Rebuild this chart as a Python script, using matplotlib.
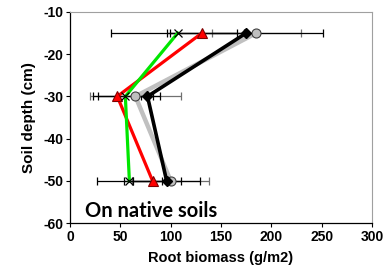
import matplotlib
matplotlib.use("Agg")
import matplotlib.pyplot as plt

depth = [-15, -30, -50]

grey_vals = [185, 65, 100]
grey_err = [44, 45, 38]
black_vals = [175, 77, 96]
black_err = [76, 12, 33]
red_vals = [131, 47, 82]
red_err = [35, 24, 28]
green_vals = [107, 55, 59]
green_err = [66, 27, 32]

xticks = [0, 50, 100, 150, 200, 250, 300]
yticks = [-10, -20, -30, -40, -50, -60]

plt.rcParams['font.family'] = ['Liberation Sans', 'DejaVu Sans']
plt.rcParams['font.weight'] = 'bold'
plt.rcParams['axes.unicode_minus'] = False

fig = plt.figure(figsize=(3.86, 2.77), dpi=100)
ax = fig.add_axes([0.1813, 0.1949, 0.9637 - 0.1813, 0.9567 - 0.1949])

# error bars
for vals, err, col in [(grey_vals, grey_err, '#707070'), (black_vals, black_err, 'black'),
                       (red_vals, red_err, 'black'), (green_vals, green_err, 'black')]:
    ax.errorbar(vals, depth, xerr=err, fmt='none', ecolor=col, elinewidth=0.9,
                capsize=2.8, capthick=0.9, zorder=2)

ax.plot(grey_vals, depth, color='#c0c0c0', lw=3.2, marker='o', ms=6.5,
        mfc='#bfbfbf', mec='#404040', mew=0.8, zorder=3)
ax.plot(black_vals, depth, color='black', lw=2.6, marker='D', ms=5.5,
        mfc='black', mec='black', zorder=4)
ax.plot(red_vals, depth, color='#ff0000', lw=2.3, marker='^', ms=6.5,
        mfc='#ff0000', mec='#800000', mew=0.8, zorder=5)
ax.plot(green_vals, depth, color='#00e600', lw=2.3, zorder=6)
ax.plot(green_vals, depth, ls='none', marker='x', ms=6, mec='black', mew=0.9, zorder=7)

ax.set_xlim(0, 300)
ax.set_ylim(-60, -10)
ax.set_xticks(xticks)
ax.set_yticks(yticks)
ax.set_xticklabels([str(v) for v in xticks], fontweight='bold')
ax.set_yticklabels([str(v) for v in yticks], fontweight='bold')
ax.tick_params(axis='both', direction='out', length=3, width=0.8, labelsize=10, pad=2)

for s in ['left', 'bottom']:
    ax.spines[s].set_color('black')
    ax.spines[s].set_linewidth(0.9)
for s in ['top', 'right']:
    ax.spines[s].set_color('#a0a0a0')
    ax.spines[s].set_linewidth(0.8)

ax.set_xlabel('Root biomass (g/m2)', fontsize=10.5, fontweight='bold', labelpad=5)
ax.set_ylabel('Soil depth (cm)', fontsize=11, fontweight='bold', labelpad=5)

ax.text(15, -58.5, 'On native soils', fontsize=14.5, fontweight='bold',
        family=['Lato', 'DejaVu Sans'], ha='left', va='baseline')

fig.savefig('out.png', dpi=100)
